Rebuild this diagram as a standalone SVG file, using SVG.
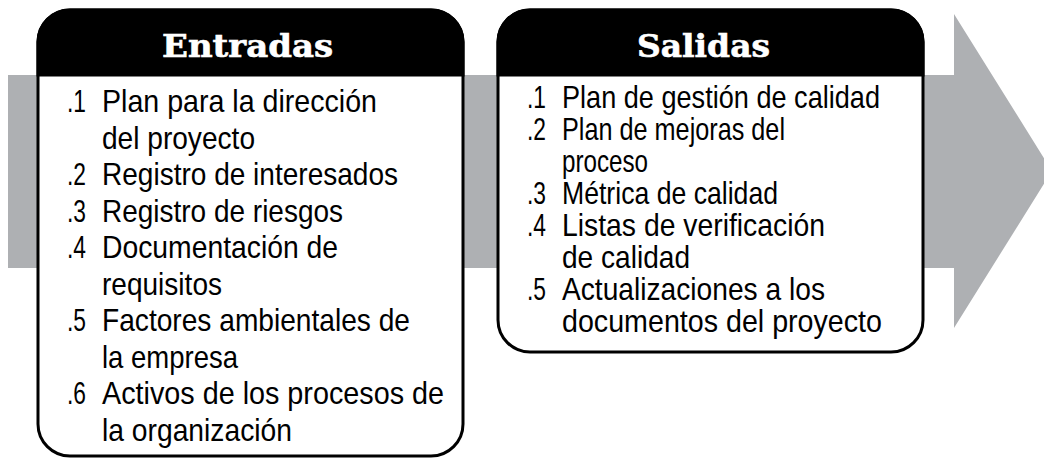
<svg xmlns="http://www.w3.org/2000/svg" width="1044" height="459" viewBox="0 0 1044 459">
<style>
.box{fill:#fff;stroke:#000;stroke-width:3}
.hdr{fill:#000;stroke:#000;stroke-width:3}
.ht{font-family:"DejaVu Serif","Liberation Serif",serif;font-weight:bold;font-size:31px;fill:#fff;stroke:#fff;stroke-width:0.6}
.t{font-family:"Liberation Sans Narrow","Liberation Sans",sans-serif;font-size:32px;fill:#000}
</style>
<g id="arrow">
<polygon points="8,75 954,75 954,14 1052,171 954,328 954,268 8,268" fill="#aeb0b3"/>
</g>
<g id="connectors"></g>
<g id="entradas">
<rect class="box" x="38" y="10" width="425" height="446" rx="32" ry="32"/>
<path class="hdr" d="M38,75 V42 A32,32 0 0 1 70,10 H431 A32,32 0 0 1 463,42 V75 Z"/>
<text class="ht" x="162" y="57" textLength="171" lengthAdjust="spacingAndGlyphs">Entradas</text>
<text class="t" x="67" y="112" textLength="19" lengthAdjust="spacingAndGlyphs">.1</text>
<text class="t" x="102" y="112" textLength="275" lengthAdjust="spacingAndGlyphs">Plan para la dirección</text>
<text class="t" x="102" y="148.5" textLength="153" lengthAdjust="spacingAndGlyphs">del proyecto</text>
<text class="t" x="67" y="185" textLength="19" lengthAdjust="spacingAndGlyphs">.2</text>
<text class="t" x="102" y="185" textLength="296" lengthAdjust="spacingAndGlyphs">Registro de interesados</text>
<text class="t" x="67" y="221.5" textLength="19" lengthAdjust="spacingAndGlyphs">.3</text>
<text class="t" x="102" y="221.5" textLength="241" lengthAdjust="spacingAndGlyphs">Registro de riesgos</text>
<text class="t" x="67" y="258" textLength="19" lengthAdjust="spacingAndGlyphs">.4</text>
<text class="t" x="102" y="258" textLength="236" lengthAdjust="spacingAndGlyphs">Documentación de</text>
<text class="t" x="102" y="294.5" textLength="120" lengthAdjust="spacingAndGlyphs">requisitos</text>
<text class="t" x="67" y="331" textLength="19" lengthAdjust="spacingAndGlyphs">.5</text>
<text class="t" x="102" y="331" textLength="308" lengthAdjust="spacingAndGlyphs">Factores ambientales de</text>
<text class="t" x="102" y="367.5" textLength="136" lengthAdjust="spacingAndGlyphs">la empresa</text>
<text class="t" x="67" y="404" textLength="19" lengthAdjust="spacingAndGlyphs">.6</text>
<text class="t" x="102" y="404" textLength="342" lengthAdjust="spacingAndGlyphs">Activos de los procesos de</text>
<text class="t" x="102" y="440.5" textLength="190" lengthAdjust="spacingAndGlyphs">la organización</text>
</g>
<g id="salidas">
<rect class="box" x="498" y="10" width="425" height="342" rx="32" ry="32"/>
<path class="hdr" d="M498,75 V42 A32,32 0 0 1 530,10 H891 A32,32 0 0 1 923,42 V75 Z"/>
<text class="ht" x="637" y="57" textLength="133" lengthAdjust="spacingAndGlyphs">Salidas</text>
<text class="t" x="527" y="108" textLength="19" lengthAdjust="spacingAndGlyphs">.1</text>
<text class="t" x="562" y="108" textLength="318" lengthAdjust="spacingAndGlyphs">Plan de gestión de calidad</text>
<text class="t" x="527" y="140" textLength="19" lengthAdjust="spacingAndGlyphs">.2</text>
<text class="t" x="562" y="140" textLength="223" lengthAdjust="spacingAndGlyphs">Plan de mejoras del</text>
<text class="t" x="562" y="172" textLength="86" lengthAdjust="spacingAndGlyphs">proceso</text>
<text class="t" x="527" y="204" textLength="19" lengthAdjust="spacingAndGlyphs">.3</text>
<text class="t" x="562" y="204" textLength="216" lengthAdjust="spacingAndGlyphs">Métrica de calidad</text>
<text class="t" x="527" y="236" textLength="19" lengthAdjust="spacingAndGlyphs">.4</text>
<text class="t" x="562" y="236" textLength="263" lengthAdjust="spacingAndGlyphs">Listas de verificación</text>
<text class="t" x="562" y="268" textLength="128" lengthAdjust="spacingAndGlyphs">de calidad</text>
<text class="t" x="527" y="300" textLength="19" lengthAdjust="spacingAndGlyphs">.5</text>
<text class="t" x="562" y="300" textLength="263" lengthAdjust="spacingAndGlyphs">Actualizaciones a los</text>
<text class="t" x="562" y="332" textLength="320" lengthAdjust="spacingAndGlyphs">documentos del proyecto</text>
</g>
</svg>
